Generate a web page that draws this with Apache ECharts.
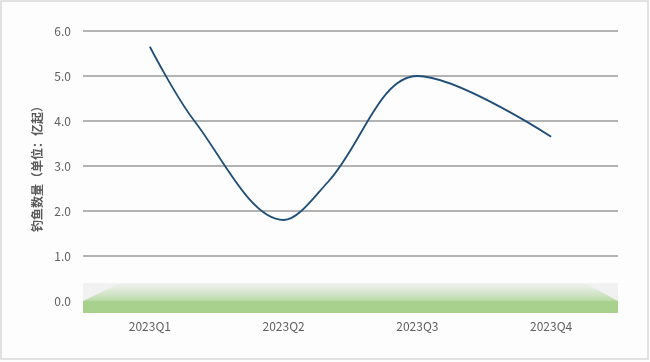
<!DOCTYPE html>
<html><head><meta charset="utf-8">
<script src="https://cdn.jsdelivr.net/npm/echarts@6/dist/echarts.min.js"></script>
<style>html,body{margin:0;padding:0;background:#fff}#c{width:650px;height:362px}</style>
</head><body><div id="c"></div>
<script>
var categories = ['2023Q1', '2023Q2', '2023Q3', '2023Q4'];
var linePositions = [0, 0.333, 1, 1.333, 2, 3];
var lineValues = [5.65, 4.0, 1.8, 2.65, 5.0, 3.65];
var yTicks = [0, 1, 2, 3, 4, 5, 6];
var axisName = '钓鱼数量（单位：亿起）';

var font = '"Noto Sans CJK SC", "Noto Sans", sans-serif';
var chart = echarts.init(document.getElementById('c'), null, {renderer: 'canvas'});
var pts = linePositions.map(function (x, i) { return [x, lineValues[i]]; });

var option = {
  backgroundColor: '#fdfdfd',
  animation: false,
  grid: {left: 83, right: 32, top: 31, bottom: 61},
  xAxis: [{
    type: 'category', data: categories, boundaryGap: true,
    axisLine: {show: false}, axisTick: {show: false},
    axisLabel: {color: '#606060', fontSize: 12, fontFamily: font, margin: 19},
    splitLine: {show: false}
  }, {
    type: 'value', min: -0.5, max: 3.5, show: false
  }],
  yAxis: {
    type: 'value', min: yTicks[0], max: yTicks[yTicks.length - 1], interval: 1,
    name: axisName, nameLocation: 'middle', nameGap: 40,
    nameTextStyle: {color: '#595959', fontSize: 12, fontFamily: font, fontWeight: 'bold'},
    axisLine: {show: false}, axisTick: {show: false},
    axisLabel: {color: '#606060', fontSize: 12, fontFamily: font, margin: 12,
      formatter: function (v) { return v.toFixed(1); }},
    splitLine: {lineStyle: {color: '#9a9a9a', width: 1.5}}
  },
  series: [{
    type: 'line', xAxisIndex: 1, data: pts, smooth: 0.35, symbol: 'none',
    lineStyle: {color: '#1f4e79', width: 1.8}, z: 5
  }]
};
chart.setOption(option);

var bl = chart.convertToPixel({xAxisIndex: 1, yAxisIndex: 0}, [-0.5, 0]);
var br = chart.convertToPixel({xAxisIndex: 1, yAxisIndex: 0}, [3.5, 0]);
var x0 = bl[0], x1 = br[0], y0 = bl[1];
chart.setOption({
  graphic: [
    {type: 'rect', shape: {x: 1, y: 1, width: 647, height: 358}, style: {fill: 'none', stroke: '#d9d9d9', lineWidth: 1.5}, z: 0, silent: true},
    {type: 'rect', shape: {x: x0, y: y0 - 18, width: x1 - x0, height: 18}, style: {fill: '#f1f1f1'}, z: 1, silent: true},
    {type: 'polygon', shape: {points: [[x0, y0], [x0 + 37, y0 - 18], [x1 - 33, y0 - 18], [x1, y0]]},
      style: {fill: new echarts.graphic.LinearGradient(0, 0, 0, 1, [
        {offset: 0, color: 'rgba(197,224,180,0)'}, {offset: 1, color: 'rgba(180,216,160,0.95)'}])}, z: 2, silent: true},
    {type: 'rect', shape: {x: x0, y: y0, width: x1 - x0, height: 12}, style: {fill: '#a9d18e'}, z: 3, silent: true}
  ]
});
</script></body></html>
